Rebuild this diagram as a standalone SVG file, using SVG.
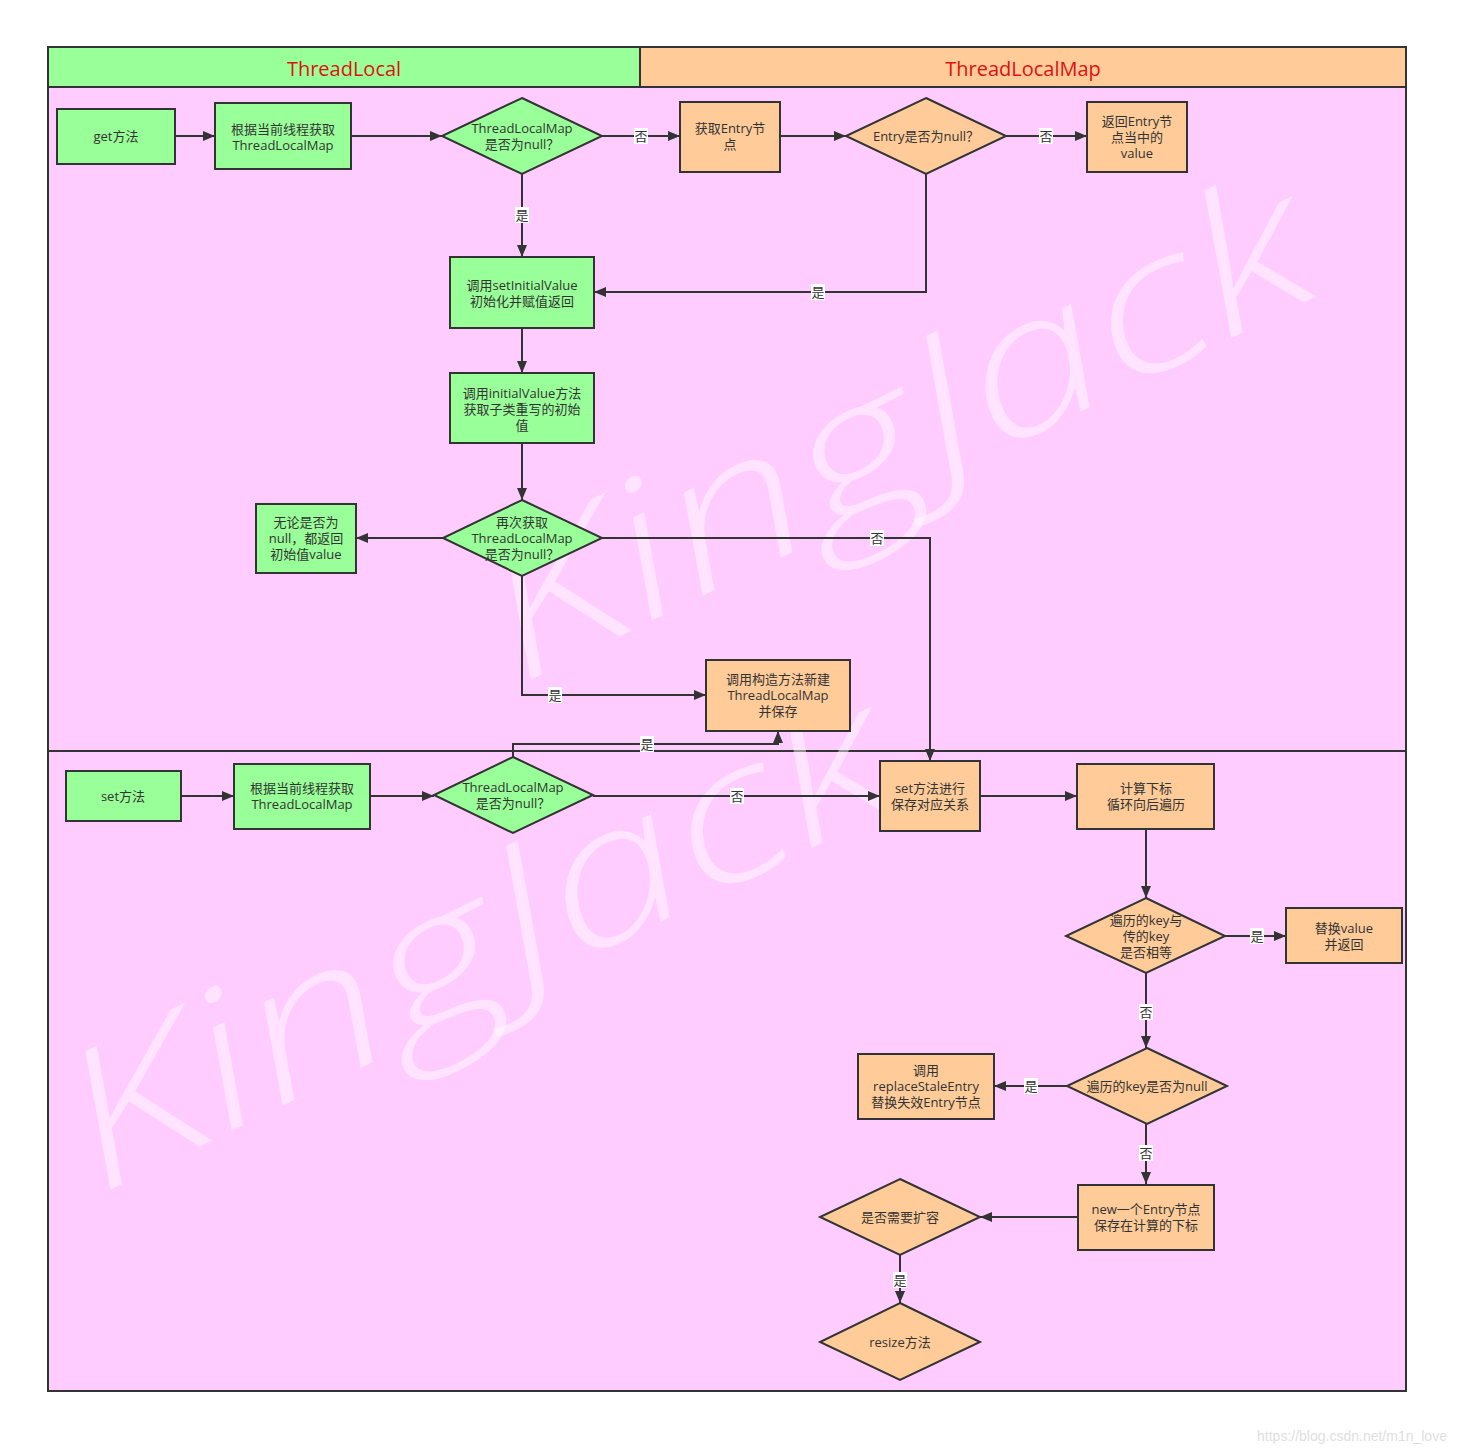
<svg xmlns="http://www.w3.org/2000/svg" width="1468" height="1454" viewBox="0 0 1468 1454">
<defs>
<style>
.g{fill:#99FF99;stroke:#333;stroke-width:2}
.o{fill:#FFCC99;stroke:#333;stroke-width:2}
.t{font-family:"Open Sans","Noto Sans CJK SC",sans-serif;font-size:13px;fill:#333;text-anchor:middle}
.c{fill:none;stroke:#333;stroke-width:2}
.lb{fill:#fff}
.h{font-family:"Open Sans","Noto Sans CJK SC",sans-serif;font-size:20px;fill:#E01010;text-anchor:middle}
.wm{font-family:"Open Sans",sans-serif;font-style:italic;font-weight:300;font-size:190px;fill:#fff;fill-opacity:0.45}
</style>
<marker id="a" markerUnits="userSpaceOnUse" markerWidth="12" markerHeight="10" refX="12" refY="5" orient="auto">
<path d="M0,0 L12,5 L0,10 z" fill="#333"/>
</marker>
</defs>
<rect width="1468" height="1454" fill="#fff"/>
<g id="pool">
<rect x="48" y="47" width="1358" height="1344" fill="#FFCCFF" stroke="#333" stroke-width="2"/>
<rect x="48" y="47" width="592" height="40" fill="#99FF99" stroke="#333" stroke-width="2"/>
<rect x="640" y="47" width="766" height="40" fill="#FFCC99" stroke="#333" stroke-width="2"/>
<text class="h" x="344" y="76">ThreadLocal</text>
<text class="h" x="1023" y="76">ThreadLocalMap</text>
<line x1="48" y1="751" x2="1406" y2="751" stroke="#333" stroke-width="2"/>
</g>
<g id="watermark">
<text class="wm" transform="translate(520,685) rotate(-26)" textLength="900" lengthAdjust="spacingAndGlyphs">KingJack</text>
<text class="wm" transform="translate(100,1195) rotate(-26)" textLength="900" lengthAdjust="spacingAndGlyphs">KingJack</text>
</g>
<g id="connectors">
<path class="c" d="M175,136 H215" marker-end="url(#a)"/>
<path class="c" d="M351,136 H442" marker-end="url(#a)"/>
<path class="c" d="M602,136 H680" marker-end="url(#a)"/>
<path class="c" d="M780,136 H846" marker-end="url(#a)"/>
<path class="c" d="M1006,136 H1087" marker-end="url(#a)"/>
<path class="c" d="M522,174 V257" marker-end="url(#a)"/>
<path class="c" d="M926,174 V292 H594" marker-end="url(#a)"/>
<path class="c" d="M522,328 V373" marker-end="url(#a)"/>
<path class="c" d="M522,443 V500" marker-end="url(#a)"/>
<path class="c" d="M443,538 H356" marker-end="url(#a)"/>
<path class="c" d="M602,538 H930 V761" marker-end="url(#a)"/>
<path class="c" d="M522,576 V695 H706" marker-end="url(#a)"/>
<path class="c" d="M513,757 V744 H778 V731" marker-end="url(#a)"/>
<path class="c" d="M181,796 H234" marker-end="url(#a)"/>
<path class="c" d="M370,796 H434" marker-end="url(#a)"/>
<path class="c" d="M593,796 H880" marker-end="url(#a)"/>
<path class="c" d="M980,796 H1077" marker-end="url(#a)"/>
<path class="c" d="M1146,829 V898" marker-end="url(#a)"/>
<path class="c" d="M1225,936 H1286" marker-end="url(#a)"/>
<path class="c" d="M1146,973 V1048" marker-end="url(#a)"/>
<path class="c" d="M1067,1086 H994" marker-end="url(#a)"/>
<path class="c" d="M1146,1124 V1184" marker-end="url(#a)"/>
<path class="c" d="M1078,1217 H980" marker-end="url(#a)"/>
<path class="c" d="M900,1255 V1303" marker-end="url(#a)"/>
<g id="labels">
<rect class="lb" x="634" y="128" width="14" height="16"/><text class="t" x="641" y="141">否</text>
<rect class="lb" x="1039" y="128" width="14" height="16"/><text class="t" x="1046" y="141">否</text>
<rect class="lb" x="515" y="207" width="14" height="16"/><text class="t" x="522" y="220">是</text>
<rect class="lb" x="811" y="284" width="14" height="16"/><text class="t" x="818" y="297">是</text>
<rect class="lb" x="870" y="530" width="14" height="16"/><text class="t" x="877" y="543">否</text>
<rect class="lb" x="548" y="687" width="14" height="16"/><text class="t" x="555" y="700">是</text>
<rect class="lb" x="640" y="736" width="14" height="16"/><text class="t" x="647" y="749">是</text>
<rect class="lb" x="730" y="788" width="14" height="16"/><text class="t" x="737" y="801">否</text>
<rect class="lb" x="1250" y="928" width="14" height="16"/><text class="t" x="1257" y="941">是</text>
<rect class="lb" x="1139" y="1004" width="14" height="16"/><text class="t" x="1146" y="1017">否</text>
<rect class="lb" x="1024" y="1078" width="14" height="16"/><text class="t" x="1031" y="1091">是</text>
<rect class="lb" x="1139" y="1145" width="14" height="16"/><text class="t" x="1146" y="1158">否</text>
<rect class="lb" x="893" y="1272" width="14" height="16"/><text class="t" x="900" y="1285">是</text>
</g>
</g>
<g id="get">
<rect class="g" x="57" y="109" width="118" height="55"/>
<text class="t" x="116" y="141">get方法</text>
</g>
<g id="getMap1">
<rect class="g" x="215" y="103" width="136" height="66"/>
<text class="t" x="283" y="134">根据当前线程获取</text>
<text class="t" x="283" y="150">ThreadLocalMap</text>
</g>
<g id="isNull1">
<polygon class="g" points="522,98 602,136 522,174 442,136"/>
<text class="t" x="522" y="133">ThreadLocalMap</text>
<text class="t" x="522" y="149">是否为null？</text>
</g>
<g id="getEntry">
<rect class="o" x="680" y="102" width="100" height="70"/>
<text class="t" x="730" y="133">获取Entry节</text>
<text class="t" x="730" y="149">点</text>
</g>
<g id="entryNull">
<polygon class="o" points="926,98 1006,136 926,174 846,136"/>
<text class="t" x="926" y="141">Entry是否为null？</text>
</g>
<g id="returnValue">
<rect class="o" x="1087" y="102" width="100" height="70"/>
<text class="t" x="1137" y="126">返回Entry节</text>
<text class="t" x="1137" y="142">点当中的</text>
<text class="t" x="1137" y="158">value</text>
</g>
<g id="setInitialValue">
<rect class="g" x="450" y="257" width="144" height="71"/>
<text class="t" x="522" y="290">调用setInitialValue</text>
<text class="t" x="522" y="306">初始化并赋值返回</text>
</g>
<g id="initialValue">
<rect class="g" x="450" y="373" width="144" height="70"/>
<text class="t" x="522" y="398">调用initialValue方法</text>
<text class="t" x="522" y="414">获取子类重写的初始</text>
<text class="t" x="522" y="430">值</text>
</g>
<g id="isNull2">
<polygon class="g" points="522,500 602,538 522,576 443,538"/>
<text class="t" x="522" y="527">再次获取</text>
<text class="t" x="522" y="543">ThreadLocalMap</text>
<text class="t" x="522" y="559">是否为null？</text>
</g>
<g id="returnInit">
<rect class="g" x="256" y="504" width="100" height="69"/>
<text class="t" x="306" y="527">无论是否为</text>
<text class="t" x="306" y="543">null，都返回</text>
<text class="t" x="306" y="559">初始值value</text>
</g>
<g id="createMap">
<rect class="o" x="706" y="660" width="144" height="71"/>
<text class="t" x="778" y="684">调用构造方法新建</text>
<text class="t" x="778" y="700">ThreadLocalMap</text>
<text class="t" x="778" y="716">并保存</text>
</g>
<g id="set">
<rect class="g" x="66" y="771" width="115" height="50"/>
<text class="t" x="123" y="801">set方法</text>
</g>
<g id="getMap2">
<rect class="g" x="234" y="764" width="136" height="65"/>
<text class="t" x="302" y="793">根据当前线程获取</text>
<text class="t" x="302" y="809">ThreadLocalMap</text>
</g>
<g id="isNull3">
<polygon class="g" points="513,757 593,795 513,833 434,795"/>
<text class="t" x="513" y="792">ThreadLocalMap</text>
<text class="t" x="513" y="808">是否为null？</text>
</g>
<g id="mapSet">
<rect class="o" x="880" y="761" width="100" height="70"/>
<text class="t" x="930" y="793">set方法进行</text>
<text class="t" x="930" y="809">保存对应关系</text>
</g>
<g id="calcIndex">
<rect class="o" x="1077" y="764" width="137" height="65"/>
<text class="t" x="1146" y="793">计算下标</text>
<text class="t" x="1146" y="809">循环向后遍历</text>
</g>
<g id="keyEqual">
<polygon class="o" points="1146,898 1225,936 1146,973 1066,936"/>
<text class="t" x="1146" y="925">遍历的key与</text>
<text class="t" x="1146" y="941">传的key</text>
<text class="t" x="1146" y="957">是否相等</text>
</g>
<g id="replaceValue">
<rect class="o" x="1286" y="908" width="116" height="55"/>
<text class="t" x="1344" y="933">替换value</text>
<text class="t" x="1344" y="949">并返回</text>
</g>
<g id="keyNull">
<polygon class="o" points="1147,1048 1227,1086 1147,1124 1067,1086"/>
<text class="t" x="1147" y="1091">遍历的key是否为null</text>
</g>
<g id="replaceStale">
<rect class="o" x="858" y="1054" width="136" height="65"/>
<text class="t" x="926" y="1075">调用</text>
<text class="t" x="926" y="1091">replaceStaleEntry</text>
<text class="t" x="926" y="1107">替换失效Entry节点</text>
</g>
<g id="newEntry">
<rect class="o" x="1078" y="1185" width="136" height="65"/>
<text class="t" x="1146" y="1214">new一个Entry节点</text>
<text class="t" x="1146" y="1230">保存在计算的下标</text>
</g>
<g id="needResize">
<polygon class="o" points="900,1179 980,1217 900,1255 820,1217"/>
<text class="t" x="900" y="1222">是否需要扩容</text>
</g>
<g id="resize">
<polygon class="o" points="900,1303 980,1342 900,1380 820,1342"/>
<text class="t" x="900" y="1347">resize方法</text>
</g>
<text x="1352" y="1441" font-family="Liberation Sans, sans-serif" font-size="14" fill="#e0e0e0" text-anchor="middle">https://blog.csdn.net/m1n_love</text>
</svg>
